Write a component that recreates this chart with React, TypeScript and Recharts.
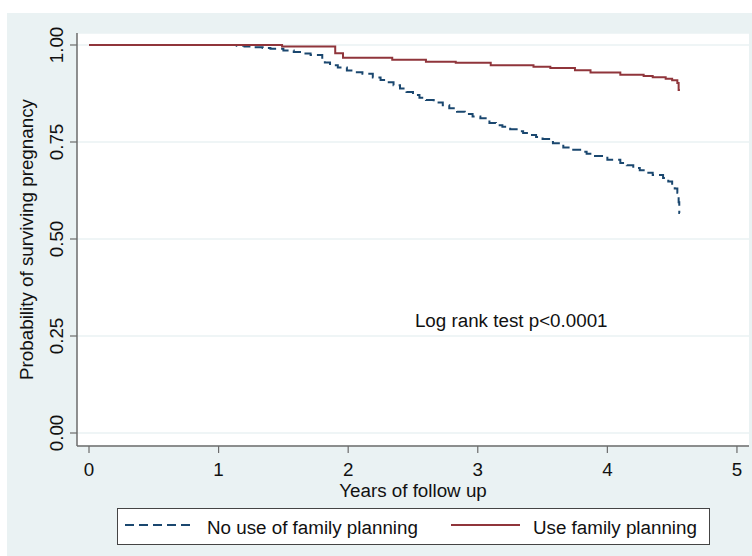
import React from "react";
import {
  LineChart,
  Line,
  XAxis,
  YAxis,
  CartesianGrid,
  Legend,
  ReferenceDot,
  Label,
} from "recharts";

// Kaplan-Meier estimates
const noUseTimes = [
  0, 1.14, 1.2, 1.27, 1.34, 1.4, 1.5, 1.58, 1.65, 1.71, 1.8, 1.82, 1.86, 1.92,
  1.99, 2.05, 2.11, 2.19, 2.25, 2.3, 2.35, 2.4, 2.45, 2.5, 2.55, 2.6, 2.66,
  2.73, 2.78, 2.84, 2.9, 2.96, 3.02, 3.09, 3.14, 3.19, 3.25, 3.3, 3.35, 3.4,
  3.45, 3.5, 3.58, 3.66, 3.72, 3.79, 3.84, 3.89, 4.0, 4.1, 4.15, 4.2, 4.25,
  4.3, 4.35, 4.43, 4.47, 4.5, 4.52, 4.54, 4.55, 4.555, 4.56,
];
const noUseSurv = [
  1, 0.998, 0.996, 0.994, 0.992, 0.99, 0.986, 0.982, 0.978, 0.974, 0.962,
  0.955, 0.948, 0.942, 0.934, 0.93, 0.926, 0.916, 0.91, 0.904, 0.896, 0.888,
  0.879, 0.871, 0.864, 0.858, 0.852, 0.845, 0.837, 0.828, 0.822, 0.816, 0.811,
  0.799, 0.793, 0.789, 0.783, 0.778, 0.773, 0.768, 0.763, 0.758, 0.747, 0.736,
  0.73, 0.725, 0.72, 0.714, 0.704, 0.696, 0.69, 0.683, 0.677, 0.671, 0.665,
  0.657, 0.648, 0.639, 0.63, 0.619, 0.595, 0.567, 0.567,
];

const useTimes = [
  0, 1.49, 1.9, 1.96, 2.34, 2.6, 2.83, 3.1, 3.43, 3.56, 3.75, 3.87, 4.1, 4.28,
  4.35, 4.45, 4.5, 4.54, 4.55, 4.56,
];
const useSurv = [
  1, 0.996, 0.979, 0.967, 0.962, 0.957, 0.954, 0.948, 0.944, 0.941, 0.935,
  0.929, 0.923, 0.92, 0.917, 0.913, 0.909, 0.902, 0.884, 0.884,
];

const xTicks = [0, 1, 2, 3, 4, 5];
const yTicks = [0, 0.25, 0.5, 0.75, 1];

const seriesNames = ["No use of family planning", "Use family planning"];
const annotation = "Log rank test p<0.0001";

const NAVY = "#1A476F";
const MAROON = "#90353B";
const BG = "#EAF2F3";
const FONT = "'Liberation Sans', Arial, sans-serif";
const FS = 18.8;

const noUseData = noUseTimes.map((t, i) => ({ t, s: noUseSurv[i] }));
const useData = useTimes.map((t, i) => ({ t, s: useSurv[i] }));

const YTick = (props: any) => {
  const { y, payload } = props;
  return (
    <text
      transform={`translate(55.5,${y}) rotate(-90)`}
      textAnchor="middle"
      fontFamily={FONT}
      fontSize={FS}
      fill="#111"
    >
      {payload.value.toFixed(2)}
    </text>
  );
};

const XTick = (props: any) => {
  const { x, payload } = props;
  return (
    <text
      x={x}
      y={462.5}
      textAnchor="middle"
      fontFamily={FONT}
      fontSize={FS}
      fill="#111"
    >
      {payload.value}
    </text>
  );
};

const LegendBox = () => (
  <svg width={593} height={37} style={{ display: "block" }}>
    <rect x={0.5} y={0.5} width={592} height={36} fill="#fff" stroke="#444" />
    <line
      x1={8}
      x2={78}
      y1={17}
      y2={17}
      stroke={NAVY}
      strokeWidth={2}
      strokeDasharray="9 5"
    />
    <text x={90} y={25.7} fontFamily={FONT} fontSize={FS} fill="#111">
      {seriesNames[0]}
    </text>
    <line x1={334} x2={403} y1={17} y2={17} stroke={MAROON} strokeWidth={2} />
    <text x={416} y={25.7} fontFamily={FONT} fontSize={FS} fill="#111">
      {seriesNames[1]}
    </text>
  </svg>
);

export default function App() {
  return (
    <div
      style={{
        position: "absolute",
        left: 0,
        top: 0,
        width: 752,
        height: 556,
        background: "#fff",
      }}
    >
      <div
        style={{
          position: "absolute",
          left: 7,
          top: 13,
          width: 745,
          height: 543,
          background: BG,
        }}
      >
        <LineChart
          width={745}
          height={543}
          margin={{ top: 20, right: 3, bottom: 0, left: 0 }}
        >
          <CartesianGrid
            vertical={false}
            fill="#fff"
            stroke={BG}
            strokeWidth={1.5}
          />
          <XAxis
            type="number"
            dataKey="t"
            domain={[-0.0926, 5.093]}
            ticks={xTicks}
            allowDataOverflow
            height={110}
            tickSize={7}
            axisLine={{ stroke: "#6b6b6b", strokeWidth: 1.5 }}
            tickLine={{ stroke: "#6b6b6b", strokeWidth: 1.2 }}
            tick={<XTick />}
          >
            <Label
              content={() => (
                <text
                  x={406}
                  y={484}
                  textAnchor="middle"
                  fontFamily={FONT}
                  fontSize={FS}
                  fill="#111"
                >
                  Years of follow up
                </text>
              )}
            />
          </XAxis>
          <YAxis
            type="number"
            domain={[-0.0335, 1.0309]}
            ticks={yTicks}
            allowDataOverflow
            width={70}
            tickSize={7}
            axisLine={{ stroke: "#6b6b6b", strokeWidth: 1.5 }}
            tickLine={{ stroke: "#6b6b6b", strokeWidth: 1.2 }}
            tick={<YTick />}
          >
            <Label
              content={() => (
                <text
                  transform="translate(26.3,226.5) rotate(-90)"
                  textAnchor="middle"
                  fontFamily={FONT}
                  fontSize={FS}
                  fill="#111"
                >
                  Probability of surviving pregnancy
                </text>
              )}
            />
          </YAxis>
          <Line
            data={noUseData}
            dataKey="s"
            name={seriesNames[0]}
            type="stepAfter"
            stroke={NAVY}
            strokeWidth={2}
            strokeDasharray="9 5"
            dot={false}
            isAnimationActive={false}
          />
          <Line
            data={useData}
            dataKey="s"
            name={seriesNames[1]}
            type="stepAfter"
            stroke={MAROON}
            strokeWidth={2}
            dot={false}
            isAnimationActive={false}
          />
          <ReferenceDot
            x={2.515}
            y={0.273}
            r={0}
            fill="none"
            stroke="none"
            label={(p: any) => (
              <text
                x={p.viewBox.x}
                y={p.viewBox.y}
                fontFamily={FONT}
                fontSize={FS}
                fill="#111"
              >
                {annotation}
              </text>
            )}
          />
          <Legend
            layout="horizontal"
            verticalAlign="middle"
            align="center"
            content={() => <LegendBox />}
            wrapperStyle={{
              position: "absolute",
              left: 109.7,
              top: 495.3,
              width: 593,
              height: 37,
            }}
          />
        </LineChart>
      </div>
    </div>
  );
}
